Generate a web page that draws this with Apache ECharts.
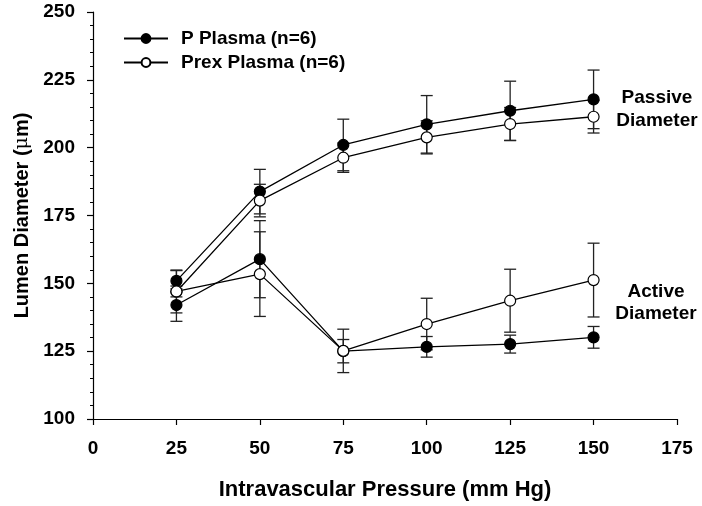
<!DOCTYPE html>
<html>
<head>
<meta charset="utf-8">
<script src="https://cdn.jsdelivr.net/npm/echarts@6/dist/echarts.min.js"></script>
<style>
html, body { margin: 0; padding: 0; background: #fff; }
#main { width: 702px; height: 506px; }
</style>
</head>
<body>
<div id="main"></div>
<script>
// pressure steps (mm Hg)
var pressures = [25, 50, 75, 100, 125, 150];

// passive diameter, means and SEM
var passiveP = [150.9, 183.8, 201.0, 208.6, 213.6, 217.8];
var passivePErr = [4.0, 8.2, 9.5, 10.6, 10.9, 10.8];
var passivePrex = [146.9, 180.5, 196.3, 203.8, 208.7, 211.4];
var passivePrexErr = [7.8, 6.0, 5.4, 6.1, 6.1, 6.0];

// active diameter, means and SEM
var activeP = [142.0, 158.9, 125.0, 126.6, 127.6, 130.1];
var activePErr = [6.0, 14.2, 4.3, 3.8, 3.3, 4.0];
var activePrex = [147.0, 153.4, 125.1, 135.0, 143.6, 151.2];
var activePrexErr = [2.0, 15.6, 8.0, 9.5, 11.6, 13.6];

var seriesNames = ['P Plasma (n=6)', 'Prex Plasma (n=6)'];

var font = 'Liberation Sans, Arial, sans-serif';

function errorSeries(vals, errs) {
    return {
        type: 'custom',
        silent: true,
        z: 1,
        data: pressures.map(function (p, i) {
            return [p, vals[i] - errs[i], vals[i] + errs[i]];
        }),
        encode: { x: 0, y: [1, 2] },
        renderItem: function (params, api) {
            var lo = api.coord([api.value(0), api.value(1)]);
            var hi = api.coord([api.value(0), api.value(2)]);
            var w = 6;
            var st = { stroke: '#222', lineWidth: 1.3, fill: null };
            return {
                type: 'group',
                children: [
                    { type: 'line', shape: { x1: hi[0], y1: hi[1], x2: lo[0], y2: lo[1] }, style: st },
                    { type: 'line', shape: { x1: hi[0] - w, y1: hi[1], x2: hi[0] + w, y2: hi[1] }, style: st },
                    { type: 'line', shape: { x1: lo[0] - w, y1: lo[1], x2: lo[0] + w, y2: lo[1] }, style: st }
                ]
            };
        }
    };
}

function lineSeries(name, vals, filled) {
    return {
        name: name,
        type: 'line',
        z: 3,
        data: pressures.map(function (p, i) { return [p, vals[i]]; }),
        symbol: 'circle',
        symbolSize: 11,
        showSymbol: true,
        lineStyle: { color: '#000', width: 1.3 },
        itemStyle: { color: filled ? '#000' : '#fff', borderColor: '#000', borderWidth: 1.2 },
        emphasis: { disabled: true }
    };
}

var myChart = echarts.init(document.getElementById('main'));
myChart.setOption({
    animation: false,
    backgroundColor: '#fff',
    grid: { left: 93, right: 25, top: 12, bottom: 87, outerBoundsMode: 'none' },
    legend: {
        data: seriesNames,
        orient: 'vertical',
        left: 118,
        top: 24,
        itemWidth: 44,
        itemHeight: 11,
        itemGap: 5,
        textStyle: { fontFamily: font, fontWeight: 'bold', fontSize: 19, color: '#000', padding: [0, 0, 0, 8] }
    },
    xAxis: {
        type: 'value',
        min: 0,
        max: 175,
        interval: 25,
        name: 'Intravascular Pressure (mm Hg)',
        nameLocation: 'middle',
        nameGap: 60,
        nameTextStyle: { fontFamily: font, fontWeight: 'bold', fontSize: 22, color: '#000' },
        axisLine: { lineStyle: { color: '#000', width: 1.2 } },
        axisTick: { length: 6, lineStyle: { color: '#000', width: 1.2 } },
        axisLabel: { margin: 20, fontFamily: font, fontWeight: 'bold', fontSize: 19, color: '#000' },
        splitLine: { show: false }
    },
    yAxis: {
        type: 'value',
        min: 100,
        max: 250,
        interval: 25,
        name: '{b|Lumen Diameter (}{m|\u03bc}{b|m)}',
        nameLocation: 'middle',
        nameGap: 58,
        nameTextStyle: {
            rich: {
                b: { fontFamily: font, fontWeight: 'bold', fontSize: 20, color: '#000' },
                m: { fontFamily: 'DejaVu Serif, serif', fontSize: 19, color: '#000' }
            }
        },
        axisLine: { show: true, lineStyle: { color: '#000', width: 1.2 } },
        axisTick: { show: true, length: 6, lineStyle: { color: '#000', width: 1.2 } },
        minorTick: { show: true, splitNumber: 5, length: 3, lineStyle: { color: '#000', width: 1 } },
        axisLabel: { margin: 18, fontFamily: font, fontWeight: 'bold', fontSize: 19, color: '#000' },
        splitLine: { show: false }
    },
    graphic: [
        {
            type: 'text', x: 657, y: 86,
            style: { text: 'Passive\nDiameter', textAlign: 'center', textVerticalAlign: 'top', fontFamily: font, fontWeight: 'bold', fontSize: 19, lineHeight: 23, fill: '#000' }
        },
        {
            type: 'text', x: 656, y: 281,
            style: { text: 'Active\nDiameter', textAlign: 'center', textVerticalAlign: 'top', fontFamily: font, fontWeight: 'bold', fontSize: 19, lineHeight: 22, fill: '#000' }
        }
    ],
    series: [
        errorSeries(passiveP, passivePErr),
        errorSeries(passivePrex, passivePrexErr),
        errorSeries(activeP, activePErr),
        errorSeries(activePrex, activePrexErr),
        lineSeries(seriesNames[0], passiveP, true),
        lineSeries(seriesNames[1], passivePrex, false),
        lineSeries(seriesNames[0], activeP, true),
        lineSeries(seriesNames[1], activePrex, false)
    ]
});
</script>
</body>
</html>
